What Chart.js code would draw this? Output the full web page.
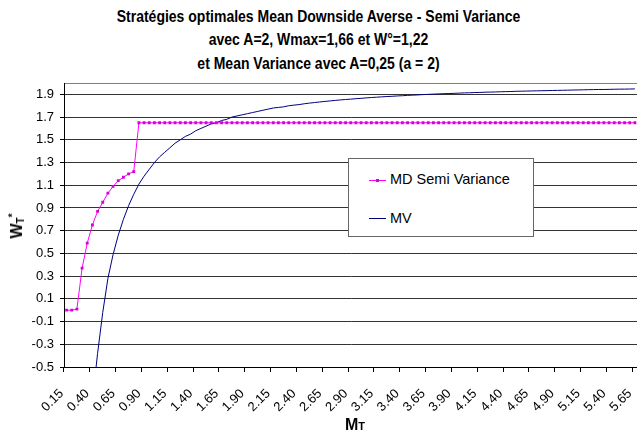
<!DOCTYPE html>
<html lang="fr">
<head>
<meta charset="UTF-8">
<title>Stratégies optimales MD Semi Variance / MV</title>
<script src="https://cdn.jsdelivr.net/npm/chart.js"></script>
<style>
    body { margin: 0; width: 637px; height: 435px; overflow: hidden; background: #fff; position: relative;
           font-family: "Liberation Sans", Arial, sans-serif; color: #000; }
    #chartBox { position: absolute; left: 0; top: 0; width: 660px; height: 435px; }
    #chartTitle { position: absolute; left: 0; top: 5px; width: 637px; text-align: center;
                  font-weight: bold; font-size: 14px; line-height: 21px;
                  transform: scaleY(1.12); transform-origin: 50% 0; }
    .axisTitle { position: absolute; font-weight: bold; font-size: 16px; white-space: nowrap; line-height: 18px; }
    #yTitle { left: 17px; top: 226px; transform: translate(-50%, -50%) rotate(-90deg); }
    #xTitle { left: 355px; top: 425px; transform: translate(-50%, -50%); }
    .small { font-size: 11px; }
    .sub { font-size: 10px; vertical-align: -2px; }
    .sup { font-size: 10px; vertical-align: 6px; }
    #legendBox { position: absolute; left: 348px; top: 158px; width: 186px; height: 79px; box-sizing: border-box;
                 border: 1px solid #666; background: #fff; padding-top: 1px; }
    .legendRow { height: 38.5px; line-height: 38.5px; padding-left: 20px; font-size: 14.5px; white-space: nowrap; }
    .swatch { position: relative; display: inline-block; width: 17px; height: 1px; vertical-align: middle; margin-right: 4px; }
    .swatch i { position: absolute; left: 7px; top: -1px; width: 3px; height: 3px; }
</style>
</head>
<body>

<div id="chartTitle">
    Stratégies optimales Mean Downside Averse - Semi Variance<br>
    avec A=2, Wmax=1,66 et W°=1,22<br>
    et Mean Variance avec A=0,25 (a = 2)
</div>

<canvas id="chartBox" width="660" height="435"></canvas>

<div id="yTitle" class="axisTitle">W<span class="sub">T</span><span class="sup">*</span></div>
<div id="xTitle" class="axisTitle">M<span class="small">T</span></div>
<div id="legendBox"></div>

<script>
    // categories M_T (pas de 0.05)
    const xLabels = [
        '0.15', '0.20', '0.25', '0.30', '0.35', '0.40', '0.45', '0.50', '0.55', '0.60',
        '0.65', '0.70', '0.75', '0.80', '0.85', '0.90', '0.95', '1.00', '1.05', '1.10',
        '1.15', '1.20', '1.25', '1.30', '1.35', '1.40', '1.45', '1.50', '1.55', '1.60',
        '1.65', '1.70', '1.75', '1.80', '1.85', '1.90', '1.95', '2.00', '2.05', '2.10',
        '2.15', '2.20', '2.25', '2.30', '2.35', '2.40', '2.45', '2.50', '2.55', '2.60',
        '2.65', '2.70', '2.75', '2.80', '2.85', '2.90', '2.95', '3.00', '3.05', '3.10',
        '3.15', '3.20', '3.25', '3.30', '3.35', '3.40', '3.45', '3.50', '3.55', '3.60',
        '3.65', '3.70', '3.75', '3.80', '3.85', '3.90', '3.95', '4.00', '4.05', '4.10',
        '4.15', '4.20', '4.25', '4.30', '4.35', '4.40', '4.45', '4.50', '4.55', '4.60',
        '4.65', '4.70', '4.75', '4.80', '4.85', '4.90', '4.95', '5.00', '5.05', '5.10',
        '5.15', '5.20', '5.25', '5.30', '5.35', '5.40', '5.45', '5.50', '5.55', '5.60',
        '5.65'
    ];

    // MD Semi Variance (W_T*)
    const mdValues = [
        0.00, 0.00, 0.01, 0.37, 0.59, 0.75, 0.87, 0.95, 1.03, 1.09,
        1.14, 1.17, 1.20, 1.22, 1.65, 1.65, 1.65, 1.65, 1.65, 1.65,
        1.65, 1.65, 1.65, 1.65, 1.65, 1.65, 1.65, 1.65, 1.65, 1.65,
        1.65, 1.65, 1.65, 1.65, 1.65, 1.65, 1.65, 1.65, 1.65, 1.65,
        1.65, 1.65, 1.65, 1.65, 1.65, 1.65, 1.65, 1.65, 1.65, 1.65,
        1.65, 1.65, 1.65, 1.65, 1.65, 1.65, 1.65, 1.65, 1.65, 1.65,
        1.65, 1.65, 1.65, 1.65, 1.65, 1.65, 1.65, 1.65, 1.65, 1.65,
        1.65, 1.65, 1.65, 1.65, 1.65, 1.65, 1.65, 1.65, 1.65, 1.65,
        1.65, 1.65, 1.65, 1.65, 1.65, 1.65, 1.65, 1.65, 1.65, 1.65,
        1.65, 1.65, 1.65, 1.65, 1.65, 1.65, 1.65, 1.65, 1.65, 1.65,
        1.65, 1.65, 1.65, 1.65, 1.65, 1.65, 1.65, 1.65, 1.65, 1.65,
        1.65
    ];

    // MV (W_T*), les premieres valeurs sont sous l'axe
    const mvValues = [
        -10.05, -5.83, -3.60, -2.26, -1.38, -0.80, -0.38, -0.02, 0.28, 0.49,
        0.66, 0.80, 0.92, 1.02, 1.11, 1.18, 1.24, 1.30, 1.35, 1.39,
        1.43, 1.47, 1.50, 1.53, 1.55, 1.58, 1.60, 1.62, 1.64, 1.65,
        1.67, 1.68, 1.70, 1.71, 1.72, 1.73, 1.74, 1.75, 1.76, 1.77,
        1.78, 1.785, 1.79, 1.80, 1.805, 1.81, 1.817, 1.823, 1.828, 1.833,
        1.838, 1.842, 1.847, 1.851, 1.855, 1.858, 1.862, 1.865, 1.869, 1.872,
        1.875, 1.878, 1.881, 1.883, 1.886, 1.888, 1.891, 1.893, 1.895, 1.898,
        1.900, 1.902, 1.904, 1.906, 1.907, 1.909, 1.911, 1.913, 1.914, 1.916,
        1.917, 1.919, 1.920, 1.921, 1.923, 1.924, 1.925, 1.927, 1.928, 1.929,
        1.930, 1.931, 1.932, 1.933, 1.934, 1.935, 1.936, 1.937, 1.938, 1.939,
        1.940, 1.941, 1.942, 1.943, 1.943, 1.944, 1.945, 1.946, 1.946, 1.947,
        1.948
    ];

    // graduations de l'axe vertical
    const yTickValues = [-0.5, -0.3, -0.1, 0.1, 0.3, 0.5, 0.7, 0.9, 1.1, 1.3, 1.5, 1.7, 1.9];
    const yMin = -0.5;
    const yMax = 2.0;

    const tickFont = { family: '"Liberation Sans", Arial, sans-serif', size: 13 };

    const ctx = document.getElementById('chartBox').getContext('2d');
    const chart = new Chart(ctx, {
        type: 'line',
        data: {
            labels: xLabels,
            datasets: [{
                label: 'MD Semi Variance',
                data: mdValues,
                borderColor: '#ff00ff',
                borderWidth: 1,
                pointStyle: 'rect',
                pointRadius: 2,
                pointBorderWidth: 0,
                pointBackgroundColor: '#d800d8',
                tension: 0
            }, {
                label: 'MV',
                data: mvValues,
                borderColor: '#000080',
                borderWidth: 1,
                pointRadius: 0,
                tension: 0
            }]
        },
        options: {
            responsive: false,
            animation: false,
            layout: { padding: { top: 83, right: 15, left: 0, bottom: 0 } },
            plugins: {
                legend: { display: false },
                title: { display: false },
                tooltip: { enabled: false }
            },
            scales: {
                x: {
                    type: 'category',
                    offset: true,
                    grid: {
                        offset: true,
                        drawOnChartArea: false,
                        tickLength: 5,
                        // un trait tous les 5 points
                        color: (c) => c.index % 5 === 0 ? '#000' : 'rgba(0,0,0,0)'
                    },
                    border: { color: '#000' },
                    ticks: {
                        autoSkip: false,
                        minRotation: 45,
                        maxRotation: 45,
                        labelOffset: -5,
                        padding: 14,
                        color: '#000',
                        font: tickFont,
                        callback: (value, index) => index % 5 === 0 ? xLabels[index] : ''
                    },
                    afterFit: (scale) => { scale.height = 68; }
                },
                y: {
                    min: yMin,
                    max: yMax,
                    afterBuildTicks: (scale) => {
                        scale.ticks = yTickValues.concat([yMax]).map(v => ({ value: v }));
                    },
                    grid: {
                        tickLength: 4,
                        color: (c) => c.tick && c.tick.value === yMax ? '#808080' : '#333',
                        tickColor: (c) => c.tick && c.tick.value === yMax ? 'rgba(0,0,0,0)' : '#000'
                    },
                    border: { color: '#000' },
                    ticks: {
                        padding: 6,
                        color: '#000',
                        font: tickFont,
                        callback: (value) => value === yMax ? '' : value.toFixed(1)
                    },
                    afterFit: (scale) => { scale.width = 64; }
                }
            }
        }
    });

    // legende construite a partir des series
    const legendBox = document.getElementById('legendBox');
    chart.data.datasets.forEach(ds => {
        const row = document.createElement('div');
        row.className = 'legendRow';
        const marker = ds.pointRadius > 0 ? `<i style="background:${ds.pointBackgroundColor}"></i>` : '';
        row.innerHTML = `<span class="swatch" style="background:${ds.borderColor}">${marker}</span>${ds.label}`;
        legendBox.appendChild(row);
    });
</script>
</body>
</html>
